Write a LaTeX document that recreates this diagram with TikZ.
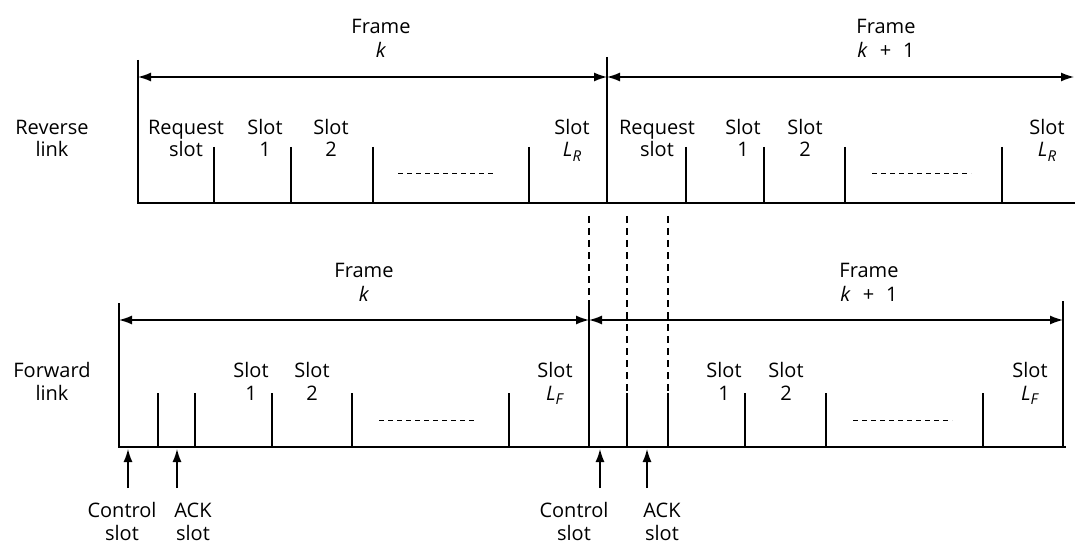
\documentclass[tikz,border=0pt]{standalone}
\usepackage{fontspec}
\setmainfont{Open Sans}
\usetikzlibrary{arrows.meta}
\newcommand{\slotsub}[1]{\textit{L}\raisebox{-0.22em}{\fontsize{15}{15}\selectfont\textit{#1}}}
\newcommand{\kplus}{\textit{k}\hspace{0.6em}+\hspace{0.6em}1}
\begin{document}
\begin{tikzpicture}[x=1pt,y=-1pt,
  lbl/.style={font=\fontsize{20}{22.5}\selectfont, align=center, inner sep=0pt, anchor=base},
  frm/.style={font=\fontsize{20}{24}\selectfont, align=center, inner sep=0pt, anchor=base},
  axis/.style={line width=1.8pt},
  divider/.style={line width=1.4pt},
  dim/.style={line width=1.4pt, {Latex[length=13pt,width=9pt]}-{Latex[length=13pt,width=9pt]}},
  dotline/.style={line width=0.9pt, dash pattern=on 5pt off 4pt},
  guide/.style={line width=1.1pt, dash pattern=on 7pt off 5pt},
  uparrow/.style={line width=1.4pt, -{Latex[length=13pt,width=9pt]}}
]
\useasboundingbox (0,0) rectangle (1075,545);

% ---------------- Reverse link ----------------
\coordinate (rtop) at (138,60);
\coordinate (rorig) at (138,203);
\coordinate (rend) at (1075,203);
\coordinate (rmidtop) at (607,57);
\coordinate (rmid) at (607,203);
\draw[axis] (rtop) -- (rorig) -- (rend);
\draw[axis] (rmidtop) -- (rmid);
\coordinate (ra0) at (138,77);
\coordinate (ra1) at (607,77);
\coordinate (ra2) at (1074,77);
\draw[dim] (ra0) -- (ra1);
\draw[dim] (ra1) -- (ra2);
\foreach \x in {214,291,373,529,686,764,845,1002}
  \draw[divider] (\x,147) -- (\x,203);
\draw[dotline] (398,173) -- (496,173);
\draw[dotline] (872,173) -- (971,173);

\node[lbl] (revlbl) at (52,157) {Reverse\\link};
\node[frm] (rframek) at (381,58) {Frame\\\textit{k}};
\node[frm] (rframek1) at (886,58) {Frame\\\kplus};
\node[lbl] (rreq1) at (186,157) {Request\\slot};
\node[lbl] (rs11) at (265,157) {Slot\\1};
\node[lbl] (rs21) at (331,157) {Slot\\2};
\node[lbl] (rsl1) at (572,157) {Slot\\\slotsub{R}};
\node[lbl] (rreq2) at (657,157) {Request\\slot};
\node[lbl] (rs12) at (743,157) {Slot\\1};
\node[lbl] (rs22) at (805,157) {Slot\\2};
\node[lbl] (rsl2) at (1047,157) {Slot\\\slotsub{R}};

% ---------------- guide lines ----------------
\draw[guide] (589,216) -- (589,302);
\draw[guide] (627,216) -- (627,393);
\draw[guide] (668,216) -- (668,393);

% ---------------- Forward link ----------------
\coordinate (ftop) at (119,303);
\coordinate (forig) at (119,447);
\coordinate (fend) at (1066,447);
\coordinate (fmidtop) at (589,302);
\coordinate (fmid) at (589,447);
\coordinate (frtop) at (1063,301);
\coordinate (fr) at (1063,447);
\draw[axis] (ftop) -- (forig) -- (fend);
\draw[axis] (fmidtop) -- (fmid);
\draw[axis] (frtop) -- (fr);
\coordinate (fa0) at (119,320);
\coordinate (fa1) at (589,320);
\coordinate (fa2) at (1063,320);
\draw[dim] (fa0) -- (fa1);
\draw[dim] (fa1) -- (fa2);
\foreach \x in {158,195,272,352,509,627,668,745,826,983}
  \draw[divider] (\x,393) -- (\x,447);
\draw[dotline] (379,420) -- (475,420);
\draw[dotline] (853,420) -- (952,420);

\node[lbl] (fwdlbl) at (52,400) {Forward\\link};
\node[frm] (fframek) at (364,301) {Frame\\\textit{k}};
\node[frm] (fframek1) at (869,301) {Frame\\\kplus};
\node[lbl] (fs11) at (251,400) {Slot\\1};
\node[lbl] (fs21) at (312,400) {Slot\\2};
\node[lbl] (fsl1) at (555,400) {Slot\\\slotsub{F}};
\node[lbl] (fs12) at (724,400) {Slot\\1};
\node[lbl] (fs22) at (786,400) {Slot\\2};
\node[lbl] (fsl2) at (1030,400) {Slot\\\slotsub{F}};

% ---------------- bottom labels and arrows ----------------
\node[lbl] (ctl1) at (122,540) {Control\\slot};
\node[lbl] (ack1) at (193,540) {ACK\\slot};
\node[lbl] (ctl2) at (574,540) {Control\\slot};
\node[lbl] (ack2) at (662,540) {ACK\\slot};
\coordinate (c1t) at (128,449); \coordinate (c1b) at (128,488);
\coordinate (a1t) at (177,449); \coordinate (a1b) at (177,488);
\coordinate (c2t) at (600,449); \coordinate (c2b) at (600,488);
\coordinate (a2t) at (647,449); \coordinate (a2b) at (647,488);
\draw[uparrow] (c1b) -- (c1t);
\draw[uparrow] (a1b) -- (a1t);
\draw[uparrow] (c2b) -- (c2t);
\draw[uparrow] (a2b) -- (a2t);
\end{tikzpicture}
\end{document}
